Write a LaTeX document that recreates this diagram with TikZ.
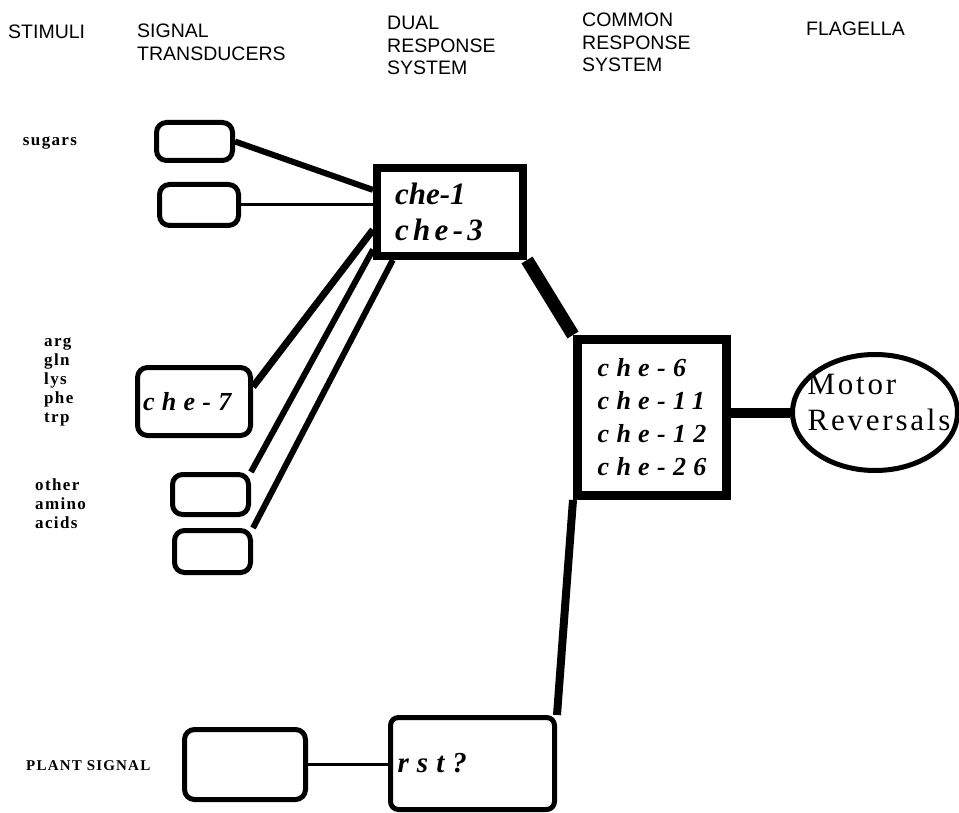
\documentclass[tikz,border=0pt]{standalone}
\usepackage{fontspec}
\setmainfont{Liberation Serif}
\newfontfamily\headfont{Liberation Sans}
\newfontfamily\genefont[LetterSpace=28]{Liberation Serif}
\newfontfamily\stimfont[LetterSpace=8]{Liberation Serif}
\newfontfamily\motorfont[LetterSpace=9]{Liberation Serif}
\usetikzlibrary{shapes.geometric}

\tikzset{
  head/.style={font=\headfont\fontsize{19.5}{22.5}\selectfont, align=left, anchor=north west, inner sep=0pt},
  stim/.style={font=\stimfont\bfseries\fontsize{17}{19}\selectfont, align=left, inner sep=0pt},
  trans/.style={draw, line width=5pt, rounded corners=10pt, fill=white},
  gene/.style={font=\genefont\bfseries\itshape\fontsize{26}{33}\selectfont, align=left},
  link/.style={line width=6pt}
}

\begin{document}
\begin{tikzpicture}[x=1pt,y=-1pt]
\useasboundingbox (0,0) rectangle (959,813);
% column heads
\node[head] (hstim) at (8,25) {STIMULI};
\node[head] (htrans) at (137,24) {SIGNAL\\TRANSDUCERS};
\node[head] (hdual) at (387,16) {DUAL\\RESPONSE\\SYSTEM};
\node[head] (hcommon) at (582,13) {COMMON\\RESPONSE\\SYSTEM};
\node[head] (hflag) at (806,22) {FLAGELLA};
% stimuli
\node[stim] (sugars) at (50,143) {sugars};
\node[stim, anchor=west] (amino) at (44,382) {arg\\gln\\lys\\phe\\trp};
\node[stim, anchor=west] (other) at (35,504) {other\\amino\\acids};
\node[stim, anchor=west, font=\stimfont\bfseries\fontsize{15}{19}\selectfont] (plantsig) at (26,766) {PLANT SIGNAL};
% signal transducers
\node[trans, minimum width=76pt, minimum height=38pt] (sug1) at (194.5,141.5) {};
\node[trans, minimum width=79pt, minimum height=41pt] (sug2) at (199,205) {};
\node[trans, gene, minimum width=113pt, minimum height=68pt, text width=102pt, inner xsep=5.5pt] (che7) at (194,401.5) {che-7};
\node[trans, minimum width=76pt, minimum height=40pt] (amino1) at (210.5,494.5) {};
\node[trans, minimum width=76pt, minimum height=42pt] (amino2) at (212.5,551.5) {};
\node[trans, minimum width=121pt, minimum height=70pt] (plant) at (245,764.5) {};
% response systems
\node[draw, line width=8pt, fill=white, minimum width=146pt, minimum height=88pt, align=left,
  text width=110pt, inner xsep=18pt,
  font=\bfseries\itshape\fontsize{31}{36}\selectfont] (dual) at (450,212) {che-1\\{\genefont\addfontfeature{LetterSpace=14}che-3}};
\node[draw, gene, line width=9pt, fill=white, minimum width=149pt, minimum height=156pt] (common) at (652,417.5) {che-6\\che-11\\che-12\\che-26};
\node[trans, gene, rounded corners=8pt, minimum width=164pt, minimum height=92pt, text width=150pt,
  inner xsep=7pt, font=\genefont\bfseries\itshape\fontsize{29}{33}\selectfont] (rst) at (472.5,763.5) {rst?};
% flagella
\node[ellipse, draw, line width=5pt, minimum width=165pt, minimum height=116pt,
  label={[align=left, xshift=4pt, yshift=10pt, font=\motorfont\fontsize{31}{36}\selectfont]center:Motor\\Reversals}] (motor) at (875,412.5) {};
% connectors
\draw[link] (sug1.east) -- (dual.164);
\draw[line width=3pt] (sug2.east) -- (sug2.east -| dual.west);
\draw[link, line width=7pt] (che7.14) -- (dual.193);
\draw[link] (amino1.north east) -- (dual.206);
\draw[link] (amino2.north east) -- (dual.220);
\draw[line width=13pt] (dual.south east) -- (common.north west);
\draw[line width=10pt] (motor.west -| common.east) -- (motor.west);
\draw[line width=8pt] (common.south west) -- (rst.north east);
\draw[line width=3pt] (plant.east) -- (plant.east -| rst.west);
\end{tikzpicture}
\end{document}
